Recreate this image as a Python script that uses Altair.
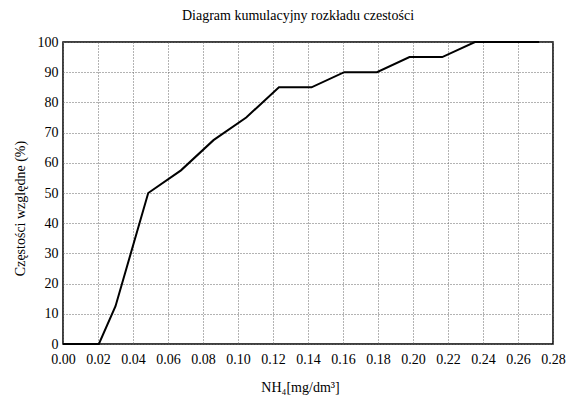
import altair as alt
import pandas as pd

# NH4 concentration [mg/dm3] and cumulative relative frequency (%)
nh4 = [0.0, 0.0205, 0.030, 0.0487, 0.0674, 0.086, 0.1047, 0.1234, 0.142,
       0.1607, 0.1794, 0.198, 0.2167, 0.2354, 0.272]
cum_pct = [0, 0, 12.5, 50, 57.5, 67.5, 75, 85, 85, 90, 90, 95, 95, 100, 100]

x_ticks = [round(i * 0.02, 2) for i in range(15)]
y_ticks = list(range(0, 101, 10))

df = pd.DataFrame({"x": nh4, "y": cum_pct})

FONT = "Liberation Serif"

chart = alt.Chart(df).mark_line(color="black", strokeWidth=2).encode(
    x=alt.X("x:Q",
            scale=alt.Scale(domain=[0, 0.28], nice=False, zero=False),
            axis=alt.Axis(values=x_ticks, format=".2f", title="NH₄[mg/dm³]",
                          titleX=237, titleY=47, titleBaseline="alphabetic",
                          titleAlign="center",
                          labelPadding=8, labelFlush=False)),
    y=alt.Y("y:Q",
            scale=alt.Scale(domain=[0, 100], nice=False),
            axis=alt.Axis(values=y_ticks, format="d", title="Częstości względne (%)",
                          titleX=-43, titleY=166, titleAngle=270,
                          titleAlign="center", titleBaseline="middle",
                          labelPadding=5, labelFlush=False)),
    order=alt.Order("x:Q"),
).properties(
    width=490,
    height=302,
    background="white",
    title=alt.TitleParams("Diagram kumulacyjny rozkładu czestości",
                          fontSize=14, font=FONT, fontWeight="normal",
                          color="black", anchor="middle", offset=12, dx=-10),
    autosize=alt.AutoSizeParams(type="none"),
    padding={"left": 63, "top": 42, "right": 17, "bottom": 51},
).configure_axis(
    grid=True,
    gridColor="#666666",
    gridDash=[1, 2],
    gridWidth=1,
    ticks=False,
    domain=False,
    labelFont=FONT,
    labelFontSize=14,
    labelColor="black",
    titleFont=FONT,
    titleFontSize=14,
    titleFontWeight="normal",
    titleColor="black",
).configure_view(
    stroke="black",
    strokeWidth=1.5,
)

chart.save("out.html", embed_options={"renderer": "svg", "actions": False})
